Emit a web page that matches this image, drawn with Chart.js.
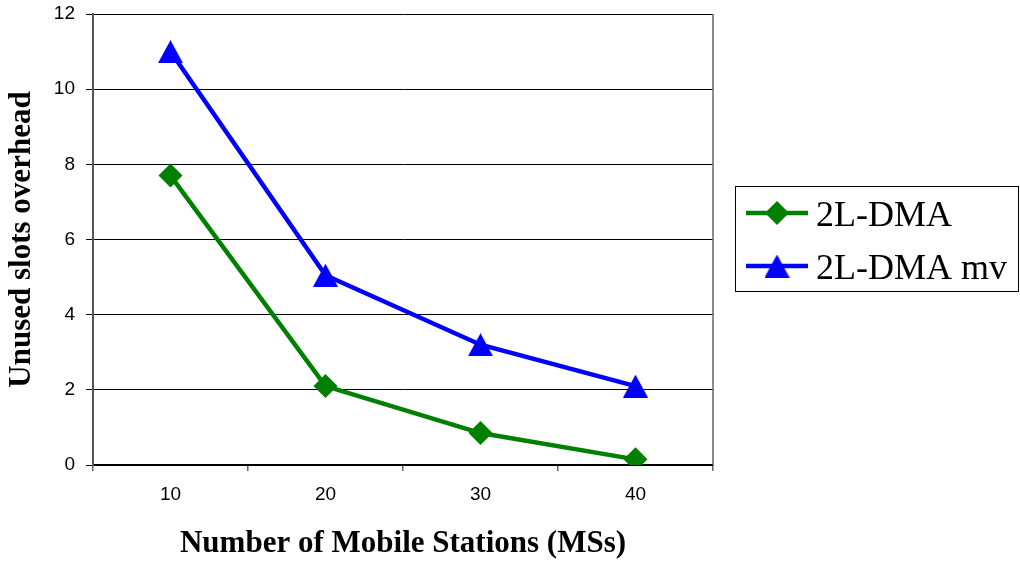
<!DOCTYPE html>
<html>
<head>
<meta charset="utf-8">
<title>Unused slots overhead</title>
<script src="https://cdn.jsdelivr.net/npm/chart.js@4/dist/chart.umd.min.js"></script>
<style>
  html, body { margin: 0; padding: 0; background: #ffffff; }
  #wrap { width: 1020px; height: 562px; position: relative; }
</style>
</head>
<body>
<div id="wrap"><canvas id="chart" width="1020" height="562"></canvas></div>
<script>
// Number of mobile stations on the x axis
const categories = ['10', '20', '30', '40'];
// Unused slots overhead per scheme
const dmaValues = [7.7, 2.1, 0.85, 0.15];
const dmaMvValues = [11, 5.05, 3.2, 2.1];
const seriesNames = ['2L-DMA', '2L-DMA mv'];

const GREEN = '#008000';
const BLUE = '#0000ff';

// Triangle marker whose bounding box is centred on the data point
function makeTriangle(color, w, h) {
  const c = document.createElement('canvas');
  c.width = w; c.height = h;
  const g = c.getContext('2d');
  g.fillStyle = color;
  g.beginPath();
  g.moveTo(w / 2, 0);
  g.lineTo(w, h);
  g.lineTo(0, h);
  g.closePath();
  g.fill();
  return c;
}
const triangle = makeTriangle(BLUE, 25, 23);

// Right-hand border of the plot area
const frame = {
  id: 'frame',
  afterDraw(chart) {
    const { ctx, chartArea: a } = chart;
    ctx.save();
    ctx.strokeStyle = '#666';
    ctx.lineWidth = 1.5;
    ctx.beginPath();
    ctx.moveTo(a.right, a.top);
    ctx.lineTo(a.right, a.bottom);
    ctx.stroke();
    ctx.restore();
  }
};

// Boxed legend to the right of the plot
const boxLegend = {
  id: 'boxLegend',
  afterDraw(chart) {
    const { ctx } = chart;
    const x0 = 735.5, y0 = 186.5, w = 283, h = 105;
    ctx.save();
    ctx.strokeStyle = '#000';
    ctx.lineWidth = 1;
    ctx.strokeRect(x0, y0, w, h);
    const rows = [213, 266];
    chart.data.datasets.forEach((ds, i) => {
      const y = rows[i];
      ctx.strokeStyle = ds.borderColor;
      ctx.lineWidth = ds.borderWidth;
      ctx.beginPath();
      ctx.moveTo(746, y);
      ctx.lineTo(808, y);
      ctx.stroke();
      if (ds.pointStyle === triangle) {
        ctx.drawImage(triangle, 777 - triangle.width / 2, y - triangle.height / 2);
      } else {
        ctx.fillStyle = ds.pointBackgroundColor;
        ctx.beginPath();
        const r = ds.pointRadius;
        ctx.moveTo(777 - r, y); ctx.lineTo(777, y - r);
        ctx.lineTo(777 + r, y); ctx.lineTo(777, y + r);
        ctx.closePath();
        ctx.fill();
      }
      ctx.fillStyle = '#000';
      ctx.font = '36px "Liberation Serif", "Times New Roman", serif';
      ctx.textBaseline = 'alphabetic';
      ctx.textAlign = 'left';
      ctx.fillText(ds.label, 816, y + 13);
    });
    ctx.restore();
  }
};

new Chart(document.getElementById('chart'), {
  type: 'line',
  data: {
    labels: categories,
    datasets: [
      {
        label: seriesNames[0],
        data: dmaValues,
        borderColor: GREEN,
        backgroundColor: GREEN,
        pointBackgroundColor: GREEN,
        pointBorderColor: GREEN,
        borderWidth: 4.5,
        pointStyle: 'rectRot',
        pointRadius: 12,
        pointBorderWidth: 0,
        tension: 0
      },
      {
        label: seriesNames[1],
        data: dmaMvValues,
        borderColor: BLUE,
        backgroundColor: BLUE,
        pointBackgroundColor: BLUE,
        pointBorderColor: BLUE,
        borderWidth: 4.5,
        pointStyle: triangle,
        pointRadius: 12,
        pointBorderWidth: 0,
        tension: 0
      }
    ]
  },
  options: {
    responsive: false,
    animation: false,
    layout: { autoPadding: false, padding: { top: 14, right: 307, bottom: 0, left: 0 } },
    plugins: {
      legend: { display: false },
      tooltip: { enabled: false }
    },
    scales: {
      x: {
        type: 'category',
        offset: true,
        grid: {
          offset: true,
          drawOnChartArea: false,
          drawTicks: true,
          tickLength: 6,
          color: '#666',
          lineWidth: 1.5
        },
        border: { display: true, color: '#000', width: 1.5 },
        ticks: {
          color: '#000',
          padding: 12,
          font: { family: '"Liberation Sans", Arial, sans-serif', size: 19 }
        },
        title: {
          display: true,
          text: 'Number of Mobile Stations (MSs)',
          color: '#000',
          font: { family: '"Liberation Serif", "Times New Roman", serif', size: 31, weight: 'bold', lineHeight: 1 },
          padding: { top: 0, bottom: 3 }
        },
        afterFit(scale) {
          scale.height = 97;
          scale.paddingLeft = 0;
          scale.paddingRight = 0;
        }
      },
      y: {
        min: 0,
        max: 12,
        ticks: {
          stepSize: 2,
          color: '#000',
          padding: 11,
          font: { family: '"Liberation Sans", Arial, sans-serif', size: 19 }
        },
        grid: {
          color: '#000',
          lineWidth: 1,
          drawTicks: true,
          tickLength: 7
        },
        border: { display: true, color: '#555', width: 2 },
        title: {
          display: true,
          text: 'Unused slots overhead',
          color: '#000',
          font: { family: '"Liberation Serif", "Times New Roman", serif', size: 31, weight: 'bold', lineHeight: 1 },
          padding: { top: 6, bottom: 0 }
        },
        afterFit(scale) {
          scale.width = 93;
          scale.paddingTop = 0;
          scale.paddingBottom = 0;
        }
      }
    }
  },
  plugins: [frame, boxLegend]
});
</script>
</body>
</html>
